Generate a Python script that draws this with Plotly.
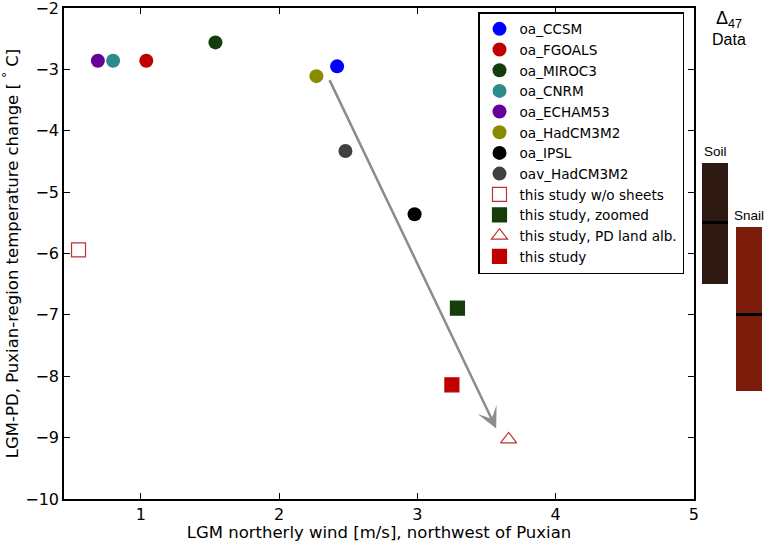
import plotly.graph_objects as go

# ---- data ----
model_names = ["oa_CCSM", "oa_FGOALS", "oa_MIROC3", "oa_CNRM", "oa_ECHAM53",
               "oa_HadCM3M2", "oa_IPSL", "oav_HadCM3M2"]
model_wind = [2.42, 1.04, 1.54, 0.80, 0.69, 2.27, 2.98, 2.48]
model_temp = [-2.95, -2.86, -2.56, -2.86, -2.86, -3.11, -5.36, -4.33]
model_colors = ["#0000ff", "#c00000", "#143d0a", "#2e8b8b", "#660099",
                "#8a8a00", "#000000", "#404040"]

study_names = ["this study w/o sheets", "this study, zoomed",
               "this study, PD land alb.", "this study"]
study_wind = [0.55, 3.29, 3.66, 3.25]
study_temp = [-5.94, -6.89, -9.03, -8.14]
study_symbols = ["square-open", "square", "triangle-up-open", "square"]
study_colors = ["#c03030", "#143d0a", "#c03030", "#c00000"]

arrow_start = [2.36, -3.15]
arrow_end = [3.57, -8.85]

proxy_names = ["Soil", "Snail"]
proxy_top = [-4.53, -5.57]
proxy_bottom = [-6.50, -8.24]
proxy_median = [-5.50, -6.99]
proxy_colors = ["#2e1912", "#7c1c0a"]

x_ticks = [1, 2, 3, 4, 5]
y_ticks = [-10, -9, -8, -7, -6, -5, -4, -3, -2]

L, T, B = 64, 8, 43
PW = 768 - L  # paper width in px
PH = 542 - T - B

fig = go.Figure()

for n, xv, yv, c in zip(model_names, model_wind, model_temp, model_colors):
    fig.add_trace(go.Scatter(x=[xv], y=[yv], mode="markers", name=n,
                             marker=dict(symbol="circle", size=14, color=c,
                                         line=dict(width=0))))

for n, xv, yv, s, c in zip(study_names, study_wind, study_temp, study_symbols, study_colors):
    fig.add_trace(go.Scatter(x=[xv], y=[yv], mode="markers", name=n,
                             marker=dict(symbol=s, size=14, color=c,
                                         line=dict(width=1.2, color=c))))

# proxy bars on a side axis sharing the y scale
fig.add_trace(go.Bar(x=proxy_names, y=[t - b for t, b in zip(proxy_top, proxy_bottom)],
                     base=proxy_bottom, marker=dict(color=proxy_colors, line=dict(width=0)),
                     width=0.78, xaxis="x2", yaxis="y", showlegend=False))
fig.add_trace(go.Bar(x=proxy_names, y=[0.05] * len(proxy_names),
                     base=[m - 0.025 for m in proxy_median],
                     marker=dict(color="black", line=dict(width=0)),
                     width=0.78, xaxis="x2", yaxis="y", showlegend=False))

for n, t in zip(proxy_names, proxy_top):
    fig.add_annotation(x=n, y=t, xref="x2", yref="y", text=n, showarrow=False,
                       yanchor="bottom", yshift=2,
                       font=dict(family="Liberation Sans", size=13.5, color="black"))

fig.add_annotation(x=arrow_end[0], y=arrow_end[1], ax=arrow_start[0], ay=arrow_start[1],
                   xref="x", yref="y", axref="x", ayref="y", text="",
                   showarrow=True, arrowhead=3, arrowsize=1.4, arrowwidth=2.5,
                   arrowcolor="#8c8c8c")

fig.add_annotation(x=(729 - L) / PW, y=1.0, xref="paper", yref="paper",
                   text="<span style='font-size:18px'>Δ<sub>47</sub></span><br>Data",
                   showarrow=False, xanchor="center", yanchor="top", yshift=2,
                   font=dict(family="Liberation Sans", size=16, color="black"))

axis_common = dict(showgrid=False, zeroline=False, showline=True, linecolor="black",
                   linewidth=1.5, ticks="inside", ticklen=6, tickwidth=1,
                   tickcolor="black", mirror="ticks", automargin=False,
                   ticklabeloverflow="allow",
                   tickfont=dict(family="DejaVu Sans", size=16, color="black"))

fig.update_layout(
    template="none",
    width=768, height=542,
    margin=dict(l=L, r=0, t=T, b=B, pad=0),
    paper_bgcolor="white", plot_bgcolor="white",
    font=dict(family="DejaVu Sans", size=16.5, color="black"),
    xaxis=dict(range=[0.445, 5.0005], domain=[0, 630 / PW], tickvals=x_ticks,
               title=dict(text="LGM northerly wind [m/s], northwest of Puxian",
                          standoff=5, font=dict(size=16.5)),
               **axis_common),
    yaxis=dict(range=[-10.0005, -1.9995], tickvals=y_ticks,
               title=dict(text="LGM-PD, Puxian-region temperature change [ <sup>°</sup> C]",
                          standoff=5, font=dict(size=16.5)),
               **axis_common),
    xaxis2=dict(domain=[630 / PW, 1], anchor="y", type="category",
                range=[-0.618, 1.559], visible=False, automargin=False),
    legend=dict(x=(478 - L) / PW, y=1 - (12 - T) / PH, xanchor="left",
                yanchor="top", bgcolor="white", bordercolor="black", borderwidth=1.5,
                font=dict(family="DejaVu Sans", size=13.6, color="black"),
                tracegroupgap=0),
    showlegend=True,
    barmode="overlay",
    bargap=0,
)

fig.write_html("out.html", config={"displayModeBar": False},
               post_script="document.body.style.margin='0';document.body.style.padding='0';")
